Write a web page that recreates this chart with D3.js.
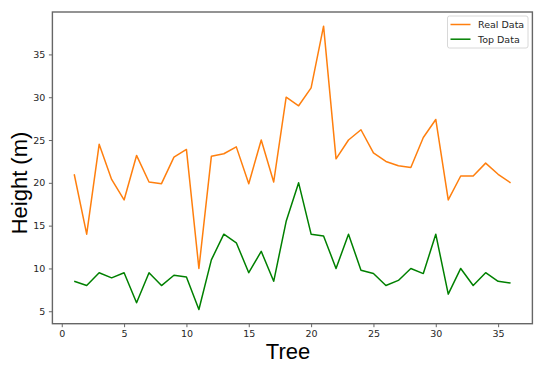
<!DOCTYPE html>
<html>
<head>
<meta charset="utf-8">
<script src="https://cdn.jsdelivr.net/npm/d3@7"></script>
<style>
body { margin:0; background:#fff; }
svg text { font-family: "DejaVu Sans", sans-serif; }
</style>
</head>
<body>
<svg id="chart"></svg>
<script>
// tree numbers along the x axis
var trees = d3.range(1, 37);

// measured heights (orange line)
var realData = [21, 14, 24.5, 20.4, 18, 23.2, 20.1, 19.9, 23, 23.9,
    10, 23.1, 23.4, 24.2, 19.9, 25, 20.1, 30, 29, 31.1,
    38.3, 22.8, 25, 26.2, 23.5, 22.5, 22, 21.8, 25.3, 27.4,
    18, 20.8, 20.8, 22.3, 21, 20];

// heights of the top (green line)
var topData = [8.5, 8, 9.5, 8.9, 9.5, 6, 9.5, 8, 9.2, 9,
    5.2, 11, 14, 13, 9.5, 12, 8.5, 15.5, 20, 14,
    13.8, 10, 14, 9.8, 9.4, 8, 8.6, 10, 9.4, 14,
    7, 10, 8, 9.5, 8.5, 8.3];

var xTicks = [0, 5, 10, 15, 20, 25, 30, 35];
var yTicks = [5, 10, 15, 20, 25, 30, 35];

var seriesNames = ["Real Data", "Top Data"];
var seriesColors = ["#ff7f0e", "#008000"];

var screen = {width:550, height:368};
var margins = {top:12, left:52.4, right:17.6, bottom:44.3};
var graph = {
    width: screen.width - margins.left - margins.right,
    height: screen.height - margins.top - margins.bottom
};

var svg = d3.select("#chart")
    .attr("width", screen.width)
    .attr("height", screen.height);

// matplotlib style 5% padding around the data
var xScale = d3.scaleLinear()
    .domain([1 - 35 * 0.05, 36 + 35 * 0.05])
    .range([0, graph.width]);

var yMin = d3.min(topData), yMax = d3.max(realData);
var pad = (yMax - yMin) * 0.05;
var yScale = d3.scaleLinear()
    .domain([yMin - pad, yMax + pad])
    .range([graph.height, 0]);

var g = svg.append("g")
    .attr("transform", "translate(" + margins.left + "," + margins.top + ")");

var xAxis = g.append("g")
    .attr("transform", "translate(0," + graph.height + ")")
    .call(d3.axisBottom(xScale).tickValues(xTicks).tickSize(3.5).tickPadding(3.5));
var yAxis = g.append("g")
    .call(d3.axisLeft(yScale).tickValues(yTicks).tickSize(3.5).tickPadding(3.5));

[xAxis, yAxis].forEach(function(ax)
{
    ax.select(".domain").remove();
    ax.selectAll("line").attr("stroke", "#555").attr("stroke-width", 0.9);
    ax.selectAll("text")
        .attr("fill", "#262626")
        .style("font-size", "9.5px")
        .style("font-family", "DejaVu Sans");
});

// the lines
var line = d3.line()
    .x(function(d, i) { return xScale(trees[i]); })
    .y(function(d) { return yScale(d); });

[realData, topData].forEach(function(data, i)
{
    g.append("path")
        .datum(data)
        .attr("d", line)
        .attr("fill", "none")
        .attr("stroke", seriesColors[i])
        .attr("stroke-width", 1.5)
        .attr("stroke-linejoin", "round");
});

// frame
g.append("rect")
    .attr("width", graph.width)
    .attr("height", graph.height)
    .attr("fill", "none")
    .attr("stroke", "#666")
    .attr("stroke-width", 1.4);

// axis titles
svg.append("text")
    .attr("x", 288)
    .attr("y", 359)
    .attr("text-anchor", "middle")
    .style("font-family", "Liberation Sans, Arial, sans-serif")
    .style("font-size", "22px")
    .text("Tree");

svg.append("text")
    .attr("transform", "translate(27,183) rotate(-90)")
    .attr("text-anchor", "middle")
    .style("font-family", "Liberation Sans, Arial, sans-serif")
    .style("font-size", "22px")
    .text("Height (m)");

// legend
var legend = svg.append("g").attr("transform", "translate(447.5,16)");
legend.append("rect")
    .attr("width", 80.5)
    .attr("height", 32)
    .attr("rx", 2)
    .attr("fill", "#fff")
    .attr("stroke", "#d8d8d8")
    .attr("stroke-width", 1);

seriesNames.forEach(function(name, i)
{
    var row = legend.append("g").attr("transform", "translate(0," + (8.5 + i * 14.7) + ")");
    row.append("line")
        .attr("x1", 3).attr("x2", 23)
        .attr("stroke", seriesColors[i])
        .attr("stroke-width", 1.5);
    row.append("text")
        .attr("x", 30.5)
        .attr("dy", "0.35em")
        .attr("fill", "#262626")
        .style("font-size", "9.5px")
        .text(name);
});
</script>
</body>
</html>
